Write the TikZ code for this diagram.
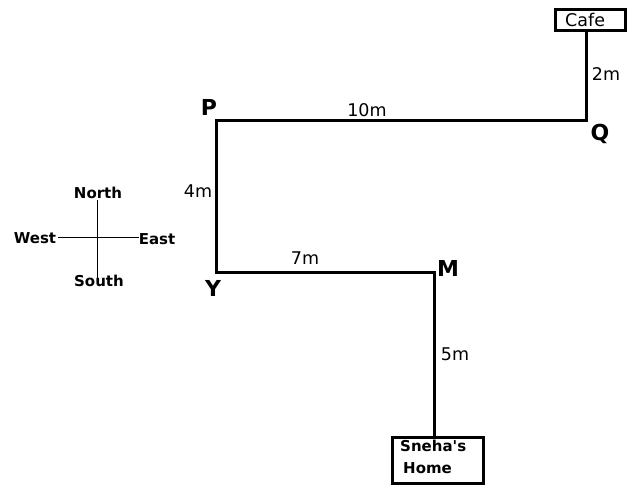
\documentclass[tikz,border=0pt]{standalone}
\usepackage{fontspec}
\setmainfont{DejaVu Sans}
\newfontfamily\rawfont{DejaVu Sans}
\begin{document}
\begin{tikzpicture}[x=1pt,y=-1pt,
  path/.style={line width=3pt,line join=miter},
  boxnode/.style={draw,line width=3pt,inner sep=0pt,minimum width=#1},
  dist/.style={inner sep=0pt,font=\fontsize{17.5}{20}\selectfont},
  pt/.style={inner sep=0pt,font=\fontsize{22}{26}\selectfont\bfseries},
  dir/.style={inner sep=0pt,font=\fontsize{15}{18}\selectfont\bfseries},
  compass/.style={line width=1pt}]
\useasboundingbox (0,0) rectangle (642,497);
% main points
\coordinate (P) at (216,121);
\coordinate (Q) at (586,121);
\coordinate (Y) at (216,272);
\coordinate (M) at (434,272);
% boxes
\node[boxnode=70pt,minimum height=21pt] (cafe) at (590,20.5) {};
\node[dist,anchor=west] (cafetext) at (565,20) {Cafe};
\node[boxnode=91pt,minimum height=46pt] (home) at (437.5,460) {};
\node[dir,anchor=west] (sneha) at (400,446) {\rawfont\bfseries Sneha's};
\node[dir,anchor=west] (hometext) at (403,468) {Home};
% path
\draw[path] (cafe.south -| Q) -- (Q) -- (P) -- (Y) -- (M) -- (home.north -| M);
% point labels
\node[pt] (lP) at (209,107) {P};
\node[pt] (lQ) at (600,134) {Q};
\node[pt] (lY) at (213,288) {Y};
\node[pt] (lM) at (448,268) {M};
% distances
\node[dist] (d10) at (367,110) {10m};
\node[dist] (d2) at (606,74) {2m};
\node[dist] (d4) at (198,191) {4m};
\node[dist] (d7) at (305,258) {7m};
\node[dist] (d5) at (455,354) {5m};
% compass
\node[dir] (north) at (98,193) {North};
\node[dir] (south) at (99,281) {South};
\node[dir] (west) at (35,238) {West};
\node[dir] (east) at (157,239) {East};
\coordinate (cn) at (97,200);
\coordinate (cs) at (97,278);
\coordinate (cw) at (58,237);
\coordinate (ce) at (139,237);
\draw[compass] (cn) -- (cs);
\draw[compass] (cw) -- (ce);
\end{tikzpicture}
\end{document}
